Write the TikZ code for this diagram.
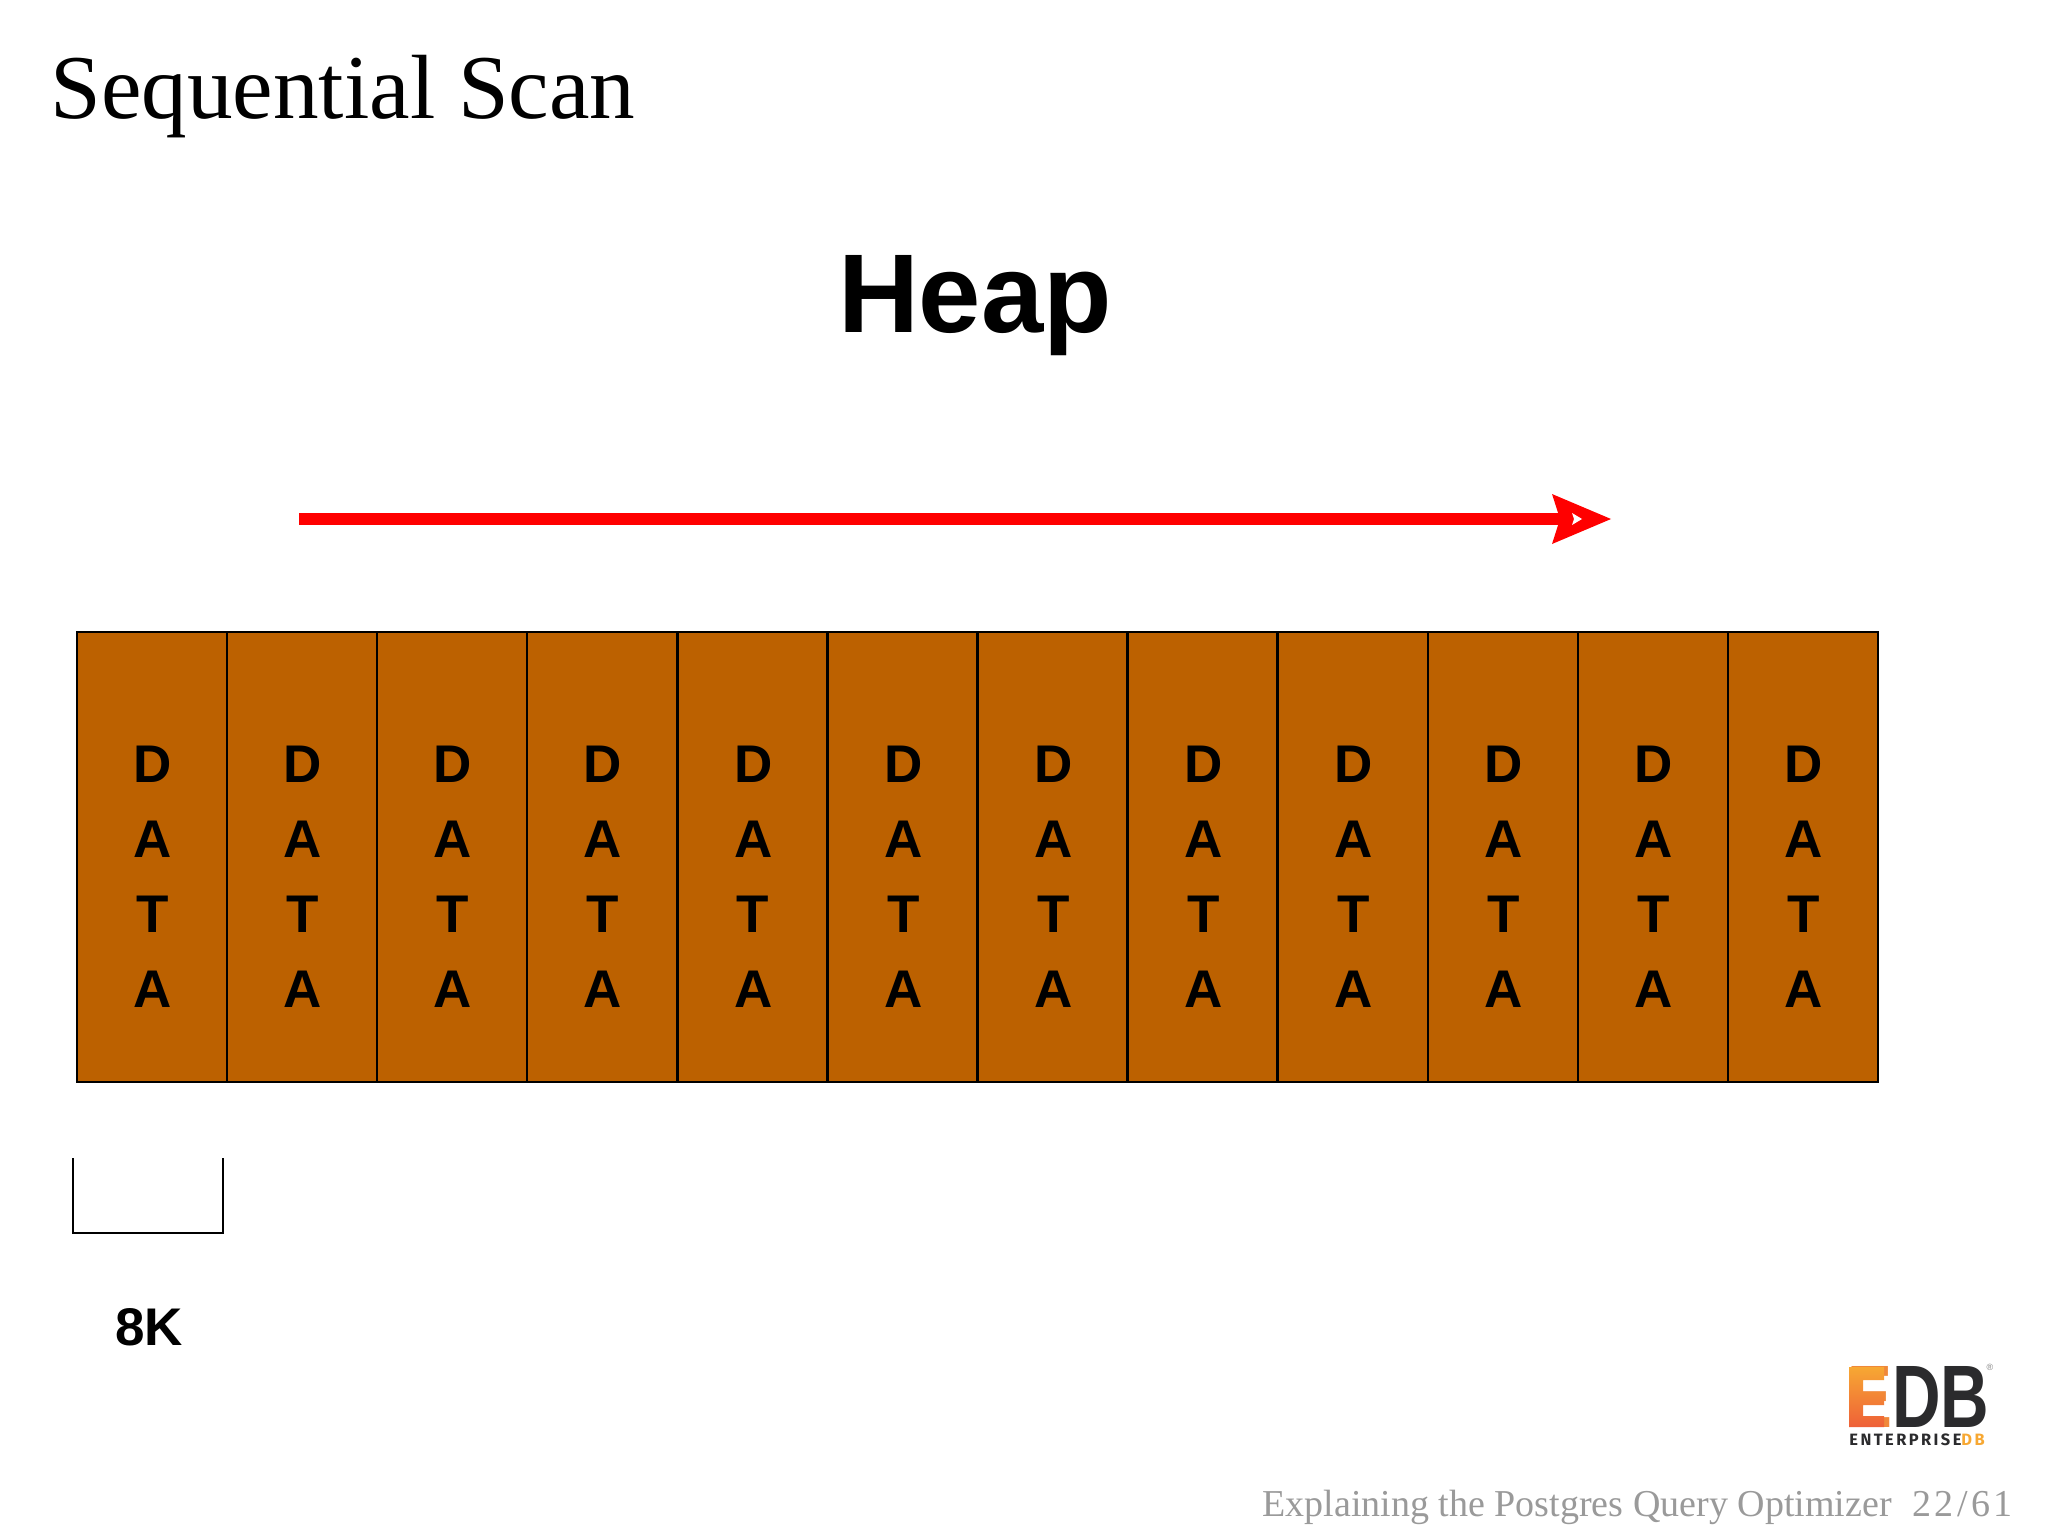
\documentclass[tikz,border=0pt]{standalone}
\usepackage{fontspec}
\setmainfont{Liberation Serif}
\newfontfamily\arialf{Liberation Sans}
\newfontfamily\logof{Liberation Sans}
\newfontfamily\logosub[LetterSpace=15]{Fira Sans}
\newfontfamily\numf[LetterSpace=9]{Liberation Serif}
\definecolor{brick}{HTML}{BC6100}
\definecolor{footgray}{HTML}{9A9A9A}
\definecolor{logodark}{HTML}{2B2B2D}
\definecolor{logoorange}{HTML}{F0883A}
\definecolor{logoyellow}{HTML}{F7A833}
\definecolor{logored}{HTML}{EE6038}
\tikzset{
  pagebox/.style={draw=black,line width=1.2pt,fill=brick,minimum width=75pt,minimum height=225pt,inner sep=0pt,outer sep=0pt},
  letter/.style={font=\arialf\bfseries\fontsize{26.5}{30}\selectfont,anchor=base,inner sep=0pt,text=black},
  sizelabel/.style={font=\arialf\bfseries\fontsize{26.5}{30}\selectfont,anchor=base,inner sep=0pt},
  heading/.style={font=\arialf\bfseries\fontsize{56}{60}\selectfont,anchor=base,inner sep=0pt},
  slidetitle/.style={font=\fontsize{45.6}{50}\selectfont,anchor=base west,inner sep=0pt},
  foot/.style={font=\fontsize{19}{20}\selectfont,text=footgray,anchor=base east,inner sep=0pt},
}
\begin{document}
\begin{tikzpicture}[x=0.5pt,y=-0.5pt]
\useasboundingbox (0,0) rectangle (2048,1536);
\fill[white] (0,0) rectangle (2048,1536);
\node[slidetitle] (title) at (50,119) {Sequential Scan};
\node[heading] (heap) at (975,332) {Heap};
% arrow
\coordinate (as) at (299,519);
\coordinate (ae) at (1562,519);
\draw[red,line width=5.8pt] (as) -- (ae);
\fill[red] (1552,494) -- (1611,519) -- (1552,544) -- (1560,519) -- cycle;
\fill[white] (1572,513) -- (1582,519) -- (1572,525) -- (1574,519) -- cycle;
% pages
\foreach \i in {0,...,11}{
  \pgfmathsetmacro{\cx}{77+150.08*\i+75.04}
  \pgfmathsetmacro{\tx}{\cx+0.8}
  \node[pagebox] (p\i) at (\cx,857) {};
  \node[letter] (d\i) at (\tx,782) {D};
  \node[letter] (a\i) at (\tx,857) {A};
  \node[letter] (t\i) at (\tx,932) {T};
  \node[letter] (b\i) at (\tx,1007) {A};
}
% 8K bracket
\draw[black,line width=1pt] (73,1158) -- (73,1233) -- (223,1233) -- (223,1158);
\node[sizelabel] (size) at (149,1345) {8K};
% logo
\node[anchor=south west,inner sep=0pt] (logo) at (1847,1428) {\resizebox{71pt}{30.5pt}{\logof\bfseries{\color{logoorange}E}\color{logodark}DB}};
\shade[top color=logoyellow,bottom color=logored] (1849,1367) -- (1884,1367) -- (1884,1380) -- (1863,1380) -- (1863,1392) -- (1884,1392) -- (1884,1405) -- (1863,1405) -- (1863,1416) -- (1884,1416) -- (1884,1427) -- (1849,1427) -- cycle;
\node[anchor=center,inner sep=0pt,font=\logof\fontsize{4.5}{5}\selectfont,text=gray] (reg) at (1990,1367) {®};
\node[anchor=base west,inner sep=0pt,font=\logosub\bfseries\fontsize{8.2}{10}\selectfont] (ent) at (1849,1445) {\textcolor{logodark}{ENTERPRISE}\textcolor{logoyellow}{DB}};
% footer
\node[foot] (ftext) at (1892,1516) {Explaining the Postgres Query Optimizer};
\node[foot,font=\numf\fontsize{19}{20}\selectfont] (fnum) at (2013,1516) {22/61};
\end{tikzpicture}
\end{document}
